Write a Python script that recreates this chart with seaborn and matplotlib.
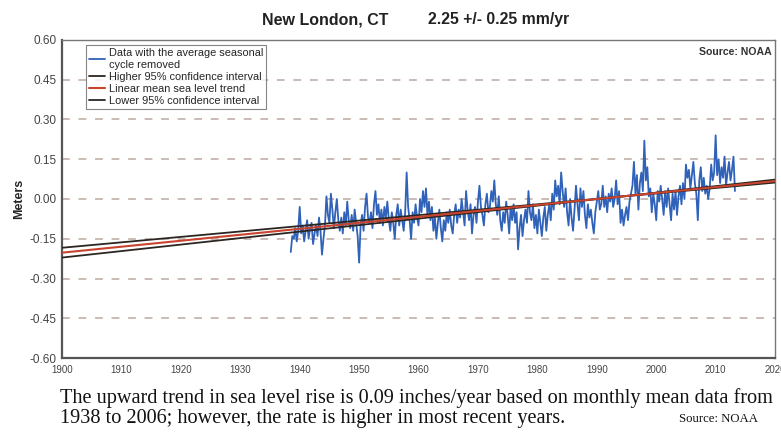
import numpy as np
import pandas as pd
import matplotlib
matplotlib.use("Agg")
import matplotlib.pyplot as plt
import seaborn as sns

# quarterly sea level (m), seasonal cycle removed, starting mid-1938
sl_start = 1938.5
sl_values = [
    -0.20, -0.14,
    -0.15, -0.11, -0.16, -0.12,   # 1939
    -0.03, -0.13, -0.10, -0.16,   # 1940
    -0.12, -0.08, -0.15, -0.11,
    -0.09, -0.17, -0.13, -0.10,
    -0.14, -0.07, -0.12, -0.21,
    -0.15, -0.10, 0.01, -0.06,
    -0.09, 0.02, -0.04, -0.11,    # 1945
    -0.05, 0.00, -0.08, -0.12,
    -0.07, -0.13, -0.05, -0.10,
    -0.01, -0.08, -0.11, -0.06,
    -0.12, -0.04, -0.09, -0.14,
    -0.24, -0.10, -0.06, -0.12,   # 1950
    -0.03, 0.02, -0.07, -0.09,
    -0.05, -0.11, -0.02, 0.03,
    -0.06, -0.02, -0.09, -0.04,
    -0.10, -0.03, -0.07, -0.01,
    -0.08, -0.12, -0.05, -0.09,   # 1955
    -0.15, -0.06, -0.02, -0.10,
    -0.04, -0.08, -0.12, -0.05,
    0.10, -0.03, -0.08, -0.15,
    -0.05, -0.09, -0.02, -0.07,
    -0.10, 0.00, -0.05, 0.03,     # 1960
    -0.03, 0.04, -0.06, -0.01,
    -0.08, -0.03, -0.12, -0.07,
    -0.15, -0.09, -0.04, -0.11,
    -0.16, -0.08, -0.12, -0.05,
    -0.09, -0.04, -0.10, -0.13,   # 1965
    -0.06, -0.02, -0.09, -0.04,
    -0.07, 0.00, -0.05, -0.10,
    0.03, -0.04, -0.08, -0.02,
    -0.13, -0.06, -0.03, -0.09,
    -0.01, 0.05, -0.03, -0.06,    # 1970
    -0.10, -0.02, 0.02, -0.05,
    -0.03, 0.03, -0.01, 0.07,
    -0.02, -0.06, 0.01, -0.08,
    -0.12, -0.05, -0.09, -0.01,
    -0.06, -0.13, -0.03, -0.08,   # 1975
    -0.02, -0.09, -0.05, -0.19,
    -0.11, -0.06, -0.14, -0.08,
    -0.04, -0.09, 0.03, -0.05,
    -0.08, -0.02, -0.11, -0.06,
    -0.13, -0.04, -0.09, -0.14,   # 1980
    -0.07, -0.03, -0.12, -0.06,
    -0.02, -0.08, 0.02, -0.04,
    0.07, 0.01, 0.05, -0.02,
    0.10, 0.03, -0.03, 0.04,
    -0.05, -0.10, 0.00, -0.07,    # 1985
    -0.12, -0.04, 0.05, -0.02,
    -0.08, 0.04, -0.03, 0.03,
    -0.06, -0.11, -0.02, -0.07,
    -0.04, -0.09, -0.13, -0.05,
    -0.01, 0.03, -0.04, -0.02,    # 1990
    0.05, -0.03, 0.01, -0.05,
    0.02, -0.01, 0.04, -0.03,
    0.00, 0.07, -0.02, 0.03,
    -0.09, -0.04, -0.10, -0.06,
    -0.03, -0.08, -0.01, 0.02,    # 1995
    0.05, 0.14, 0.02, 0.09,
    -0.04, 0.06, 0.10, 0.03,
    0.22, 0.07, 0.12, 0.01,
    0.04, -0.05, 0.02, -0.02,
    -0.08, 0.03, -0.01, 0.05,     # 2000
    0.00, -0.06, 0.03, -0.03,
    0.04, -0.02, -0.08, 0.02,
    -0.04, 0.03, -0.06, 0.01,
    0.05, -0.02, 0.06, 0.00,
    0.13, 0.08, 0.11, 0.04,       # 2005
    0.09, 0.14, 0.06, 0.02,
    -0.08, 0.07, 0.12, 0.03,
    0.08, 0.02, 0.05, 0.00,
    0.04, 0.13, 0.07, 0.10,
    0.24, 0.09, 0.15, 0.06,       # 2010
    0.12, 0.08, 0.16, 0.05,
    0.10, 0.14, 0.07, 0.11,
    0.16, 0.03,
]

# trend and 95% confidence lines, values at 1900 and 2020
trend_years = [1900, 2020]
trend_mid = [-0.2025, 0.0675]
ci_high = [-0.184, 0.062]
ci_low = [-0.221, 0.073]

x_ticks = list(range(1900, 2021, 10))
y_ticks = [0.60, 0.45, 0.30, 0.15, 0.00, -0.15, -0.30, -0.45, -0.60]

sl_df = pd.DataFrame({
    "year": sl_start + np.arange(len(sl_values)) * 0.25,
    "level": sl_values,
})

sns.set_theme(style="white")
plt.rcParams["font.family"] = ["Liberation Sans", "DejaVu Sans"]

fig = plt.figure(figsize=(7.81, 4.34), dpi=100)
ax = fig.add_axes([0.0794, 0.175, 0.913, 0.733])

grid_col = "#c9bbb5"
for v in y_ticks[1:-1]:
    ax.axhline(v, color=grid_col, lw=1.4, ls=(0, (4, 4.5)), zorder=0)

sns.lineplot(data=sl_df, x="year", y="level", ax=ax, color="#2f62b8",
             lw=1.3, label="Data with the average seasonal\ncycle removed",
             zorder=2)
sns.lineplot(x=trend_years, y=ci_high, ax=ax, color="#2b2622", lw=1.3,
             label="Higher 95% confidence interval", zorder=3)
sns.lineplot(x=trend_years, y=trend_mid, ax=ax, color="#c8442e", lw=1.5,
             label="Linear mean sea level trend", zorder=4)
sns.lineplot(x=trend_years, y=ci_low, ax=ax, color="#2b2622", lw=1.3,
             label="Lower 95% confidence interval", zorder=3)

ax.set_xlim(1900, 2020)
ax.set_ylim(-0.60, 0.60)
ax.set_xticks(x_ticks)
ax.set_xticklabels([str(t) for t in x_ticks])
ax.set_yticks(y_ticks)
ax.set_yticklabels([f"{v:.2f}" for v in y_ticks])
ax.tick_params(axis="both", colors="#444444", length=3, width=1,
               direction="out")
ax.tick_params(axis="x", labelsize=7, pad=2)
ax.tick_params(axis="y", labelsize=8.5, pad=1)
ax.set_xlabel("")
ax.set_ylabel("Meters", fontsize=9, fontweight="bold", labelpad=3)

for side in ["left", "bottom"]:
    ax.spines[side].set_color("#555555")
    ax.spines[side].set_linewidth(1.6)
for side in ["top", "right"]:
    ax.spines[side].set_color("#777777")
    ax.spines[side].set_linewidth(1.0)

leg = ax.legend(loc="upper left", bbox_to_anchor=(0.033, 0.985), fontsize=7.9,
                frameon=True, fancybox=False, edgecolor="#666666",
                handlelength=1.5, handletextpad=0.3, borderpad=0.3,
                labelspacing=0.2, borderaxespad=0)
leg.get_frame().set_linewidth(0.8)

ax.text(0.995, 0.978, "Source: NOAA", transform=ax.transAxes, ha="right",
        va="top", fontsize=7.6, fontweight="bold", color="#333333")

fig.text(0.336, 0.955, "New London, CT", ha="left", va="center",
         fontsize=11.5, fontweight="bold", color="#222222")
fig.text(0.548, 0.955, "2.25 +/- 0.25 mm/yr", ha="left", va="center",
         fontsize=11.3, fontweight="bold", color="#222222")

cap_font = ["Liberation Serif", "DejaVu Serif"]
fig.text(0.077, 0.083,
         "The upward trend in sea level rise is 0.09 inches/year based on monthly mean data from",
         ha="left", va="center", fontsize=14.6, family=cap_font, color="#111111")
fig.text(0.077, 0.035,
         "1938 to 2006; however, the rate is higher in most recent years.",
         ha="left", va="center", fontsize=14.6, family=cap_font, color="#111111")
fig.text(0.971, 0.035, "Source: NOAA", ha="right", va="center",
         fontsize=9.2, family=cap_font, color="#111111")

fig.savefig("out.png", dpi=100)
plt.close(fig)
